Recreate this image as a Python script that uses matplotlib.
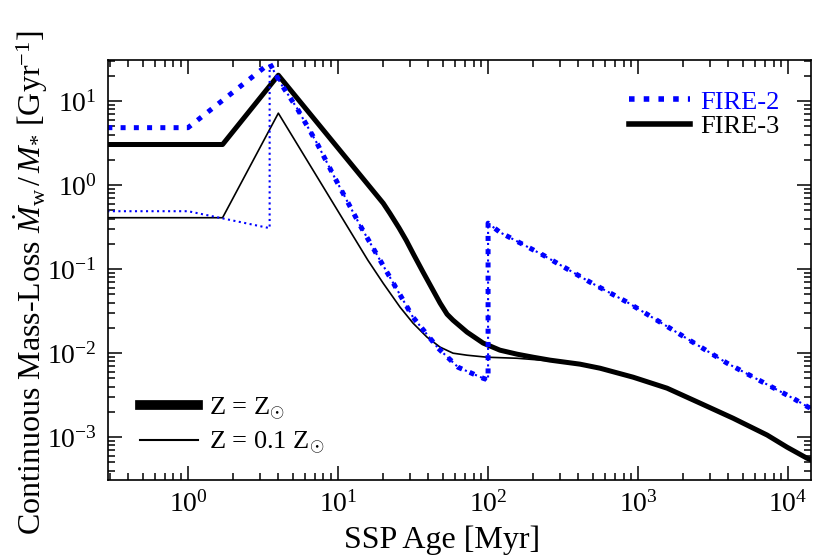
import numpy as np
import matplotlib
matplotlib.use('Agg')
import matplotlib.pyplot as plt
from matplotlib.lines import Line2D

# fonts: serif text and serif math
plt.rcParams['font.family'] = 'Liberation Serif'
plt.rcParams['mathtext.fontset'] = 'custom'
plt.rcParams['mathtext.rm'] = 'Liberation Serif'
plt.rcParams['mathtext.it'] = 'Liberation Serif:italic'
plt.rcParams['mathtext.bf'] = 'Liberation Serif:bold'

# FIRE-2, Z = Zsun  (age in Myr, rate in 1/Gyr)
fire2_sol_t = [0.29, 1.0, 3.5, 4.10, 5.33, 7.24, 9.55, 14.0, 21.2, 31.6, 46.4, 63.1, 92.6, 100,
               100, 120, 233, 479, 845, 1402, 3920, 1.08e4, 1.36e4, 1.5e4]
fire2_sol_y = [4.84, 4.84, 28.3, 16.8, 8.25, 3.16, 1.21, 0.334, 0.092, 0.0268, 0.0115, 0.0068, 0.00503, 0.0048,
               0.353, 0.275, 0.147, 0.070, 0.0405, 0.0234, 0.0076, 0.0029, 0.00228, 0.0021]

# FIRE-2, Z = 0.1 Zsun (identical to solar after 3.5 Myr)
fire2_low_t = [0.29, 1.0, 3.5] + fire2_sol_t[2:]
fire2_low_y = [0.49, 0.49, 0.308] + fire2_sol_y[2:]

# FIRE-3, Z = Zsun
fire3_sol_t = [0.29, 1.7, 4.0, 20, 22.2, 25.5, 28.5, 32.0, 36.9, 47.9, 53.3, 58.4, 72.4, 92.6, 120, 156, 200, 259, 410,
               558, 926, 1560, 2590, 4300, 7244, 9840, 1.34e4, 1.5e4]
fire3_sol_y = [3.05, 3.05, 20.4, 0.61, 0.46, 0.31, 0.22, 0.148, 0.092, 0.0394, 0.0291, 0.0247, 0.0178, 0.0132,
               0.01086, 0.00973, 0.00895, 0.00826, 0.0074, 0.00662, 0.00518, 0.00383, 0.00254, 0.00168, 0.00106,
               0.00076, 0.00056, 0.00052]

# FIRE-3, Z = 0.1 Zsun (joins the solar curve at late times)
fire3_low_t = [0.29, 1.7, 4.0, 15.8, 20, 25.9, 31.6, 39.2, 47.9, 58.4, 72.4, 98.5, 156, 259, 410] + fire3_sol_t[19:]
fire3_low_y = [0.41, 0.41, 7.2, 0.128, 0.068, 0.0353, 0.0228, 0.0155, 0.0118, 0.0100, 0.00946, 0.00895,
               0.0087, 0.0081, 0.0073] + fire3_sol_y[19:]

fig = plt.figure(figsize=(8.14, 5.57), dpi=100)
ax = fig.add_axes([0.1327, 0.138, 0.8636, 0.754])

ax.plot(fire3_sol_t, fire3_sol_y, color='black', lw=3.6)
ax.plot(fire3_low_t, fire3_low_y, color='black', lw=1.2)
ax.plot(fire2_sol_t, fire2_sol_y, color='blue', lw=3.6, ls=':')
ax.plot(fire2_low_t, fire2_low_y, color='blue', lw=1.5, ls=':')

ax.set_xscale('log')
ax.set_yscale('log')
ax.set_xlim(0.293, 1.42e4)
ax.set_ylim(3.08e-4, 30.8)

ax.set_xlabel('SSP Age [Myr]', fontsize=23)
ax.set_ylabel(r'Continuous Mass-Loss $\dot{M}_{\rm w}\,/\,M_{*}$ [Gyr$^{-1}$]', fontsize=23)
ax.xaxis.set_label_coords(0.475, -0.108)
ax.yaxis.set_label_coords(-0.082, 0.47)

ax.tick_params(which='both', direction='in', top=True, right=True, labelsize=20, width=1.1)
ax.tick_params(which='major', length=10, pad=8)
ax.tick_params(which='minor', length=5)
for s in ax.spines.values():
    s.set_linewidth(1.2)

# legend for the models
h1 = [Line2D([], [], color='blue', lw=4, ls=':'), Line2D([], [], color='black', lw=4)]
leg1 = ax.legend(h1, ['FIRE-2', 'FIRE-3'], loc='upper right', frameon=False, fontsize=19,
                 handlelength=2.3, handletextpad=0.4, labelspacing=0.05,
                 bbox_to_anchor=(0.989, 0.985), labelcolor=['blue', 'black'])
ax.add_artist(leg1)

# legend for the metallicities
h2 = [Line2D([], [], color='black', lw=7), Line2D([], [], color='black', lw=1.5)]
ax.legend(h2, [r'Z = Z$_{\odot}$', r'Z = 0.1 Z$_{\odot}$'], loc='lower left',
          frameon=False, fontsize=19, handlelength=2.2, handletextpad=0.4, labelspacing=0.3,
          bbox_to_anchor=(0.012, 0.0))

fig.savefig('out.png', dpi=100)
